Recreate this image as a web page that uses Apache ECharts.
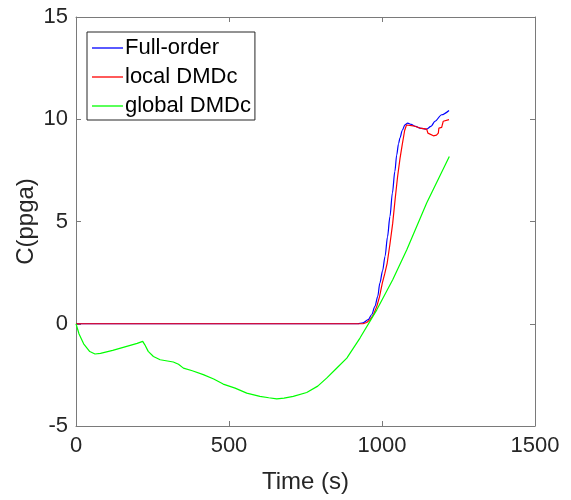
<!DOCTYPE html>
<html>
<head>
<meta charset="utf-8">
<script src="https://cdn.jsdelivr.net/npm/echarts@6/dist/echarts.min.js"></script>
<style>
  html, body { margin: 0; padding: 0; background: #fff; }
  #chart { width: 571px; height: 500px; }
</style>
</head>
<body>
<div id="chart"></div>
<script>
// Concentration response C (ppga) over time for the three models
const xTicks = [0, 500, 1000, 1500];
const yTicks = [-5, 0, 5, 10, 15];

const fullTime = [0, 920, 938, 955, 966, 977, 986, 993, 1002, 1010, 1018, 1026, 1034, 1042, 1048, 1054, 1059, 1066, 1075, 1084, 1095, 1110, 1124, 1146, 1160, 1173, 1195, 1219];
const fullVals = [0, 0, 0.05, 0.2, 0.44, 0.85, 1.33, 1.99, 2.6, 3.3, 4.25, 5.25, 6.4, 7.45, 8.25, 8.8, 9.1, 9.45, 9.73, 9.81, 9.75, 9.65, 9.57, 9.52, 9.65, 9.9, 10.22, 10.43];

const localTime = [0, 938, 950, 961, 972, 983, 992, 1001, 1009, 1017, 1026, 1035, 1043, 1051, 1059, 1066, 1074, 1080, 1086, 1102, 1124, 1146, 1150, 1156, 1168, 1172, 1178, 1184, 1186, 1195, 1198, 1200, 1203, 1219];
const localVals = [0, 0, 0.06, 0.2, 0.44, 0.85, 1.33, 1.99, 2.45, 2.97, 3.9, 4.92, 6.1, 7.2, 8.1, 8.75, 9.45, 9.72, 9.81, 9.68, 9.57, 9.52, 9.32, 9.3, 9.19, 9.24, 9.22, 9.32, 9.57, 9.6, 9.65, 9.9, 9.98, 9.98];

const globalTime = [0, 10, 25, 45, 62, 80, 120, 160, 200, 218, 225, 236, 253, 275, 318, 335, 351, 380, 416, 450, 481, 520, 558, 601, 630, 656, 680, 710, 754, 790, 819, 850, 885, 928, 983, 1035, 1081, 1146, 1220];
const globalVals = [0, -0.5, -0.98, -1.36, -1.48, -1.45, -1.3, -1.13, -0.96, -0.86, -1.03, -1.35, -1.6, -1.76, -1.87, -1.98, -2.17, -2.3, -2.49, -2.7, -2.95, -3.15, -3.39, -3.55, -3.62, -3.67, -3.64, -3.55, -3.36, -3.05, -2.66, -2.2, -1.68, -0.7, 0.68, 2.15, 3.62, 5.9, 8.18];

const seriesNames = ['Full-order', 'local DMDc', 'global DMDc'];
const seriesColors = ['#0000ff', '#ff0000', '#00ff00'];

const pairs = (ts, vs) => ts.map((t, i) => [t, vs[i]]);

const FONT = '"Liberation Sans", Arial, Helvetica, sans-serif';
const AXIS_COLOR = '#7a7a7a';
const TEXT_COLOR = '#262626';

const chart = echarts.init(document.getElementById('chart'), null, { renderer: 'canvas' });

const baseX = {
  type: 'value', min: xTicks[0], max: xTicks[xTicks.length - 1], interval: 500,
  splitLine: { show: false },
  axisLine: { show: true, onZero: false, lineStyle: { color: AXIS_COLOR, width: 1 } },
  axisTick: { show: true, inside: true, length: 5, lineStyle: { color: AXIS_COLOR } }
};
const baseY = {
  type: 'value', min: yTicks[0], max: yTicks[yTicks.length - 1], interval: 5,
  splitLine: { show: false },
  axisLine: { show: true, onZero: false, lineStyle: { color: AXIS_COLOR, width: 1 } },
  axisTick: { show: true, inside: true, length: 5, lineStyle: { color: AXIS_COLOR } }
};

const plain = v => String(v);

chart.setOption({
  animation: false,
  backgroundColor: '#ffffff',
  textStyle: { fontFamily: FONT },
  grid: { left: 76, right: 36, top: 17, bottom: 74, containLabel: false },
  legend: {
    orient: 'vertical',
    left: 87, top: 32,
    data: seriesNames,
    icon: 'rect',
    itemWidth: 31, itemHeight: 1.3, itemGap: 7,
    padding: [5, 4, 3, 5],
    borderColor: '#262626', borderWidth: 1, borderRadius: 0,
    backgroundColor: '#ffffff',
    textStyle: { fontFamily: FONT, fontSize: 22, color: '#000', lineHeight: 22, padding: [0, 0, 0, -3] }
  },
  xAxis: [
    Object.assign({}, baseX, {
      position: 'bottom',
      name: 'Time (s)', nameLocation: 'middle', nameGap: 44, nameMoveOverlap: false,
      nameTextStyle: { fontFamily: FONT, fontSize: 24, color: TEXT_COLOR },
      axisLabel: { fontFamily: FONT, fontSize: 22, color: TEXT_COLOR, margin: 9, formatter: plain }
    }),
    Object.assign({}, baseX, { position: 'top', axisLabel: { show: false } })
  ],
  yAxis: [
    Object.assign({}, baseY, {
      position: 'left',
      name: 'C(ppga)', nameLocation: 'middle', nameGap: 38, nameMoveOverlap: false,
      nameTextStyle: { fontFamily: FONT, fontSize: 24, color: TEXT_COLOR },
      axisLabel: { fontFamily: FONT, fontSize: 22, color: TEXT_COLOR, margin: 8, formatter: plain }
    }),
    Object.assign({}, baseY, { position: 'right', axisLabel: { show: false } })
  ],
  series: [
    { name: seriesNames[0], type: 'line', data: pairs(fullTime, fullVals), symbol: 'none',
      smooth: 0.3, smoothMonotone: 'x',
      lineStyle: { color: seriesColors[0], width: 1.2 }, itemStyle: { color: seriesColors[0] } },
    { name: seriesNames[1], type: 'line', data: pairs(localTime, localVals), symbol: 'none', smooth: false,
      lineStyle: { color: seriesColors[1], width: 1.2 }, itemStyle: { color: seriesColors[1] } },
    { name: seriesNames[2], type: 'line', data: pairs(globalTime, globalVals), symbol: 'none', smooth: false,
      lineStyle: { color: seriesColors[2], width: 1.2 }, itemStyle: { color: seriesColors[2] } }
  ]
});
</script>
</body>
</html>
